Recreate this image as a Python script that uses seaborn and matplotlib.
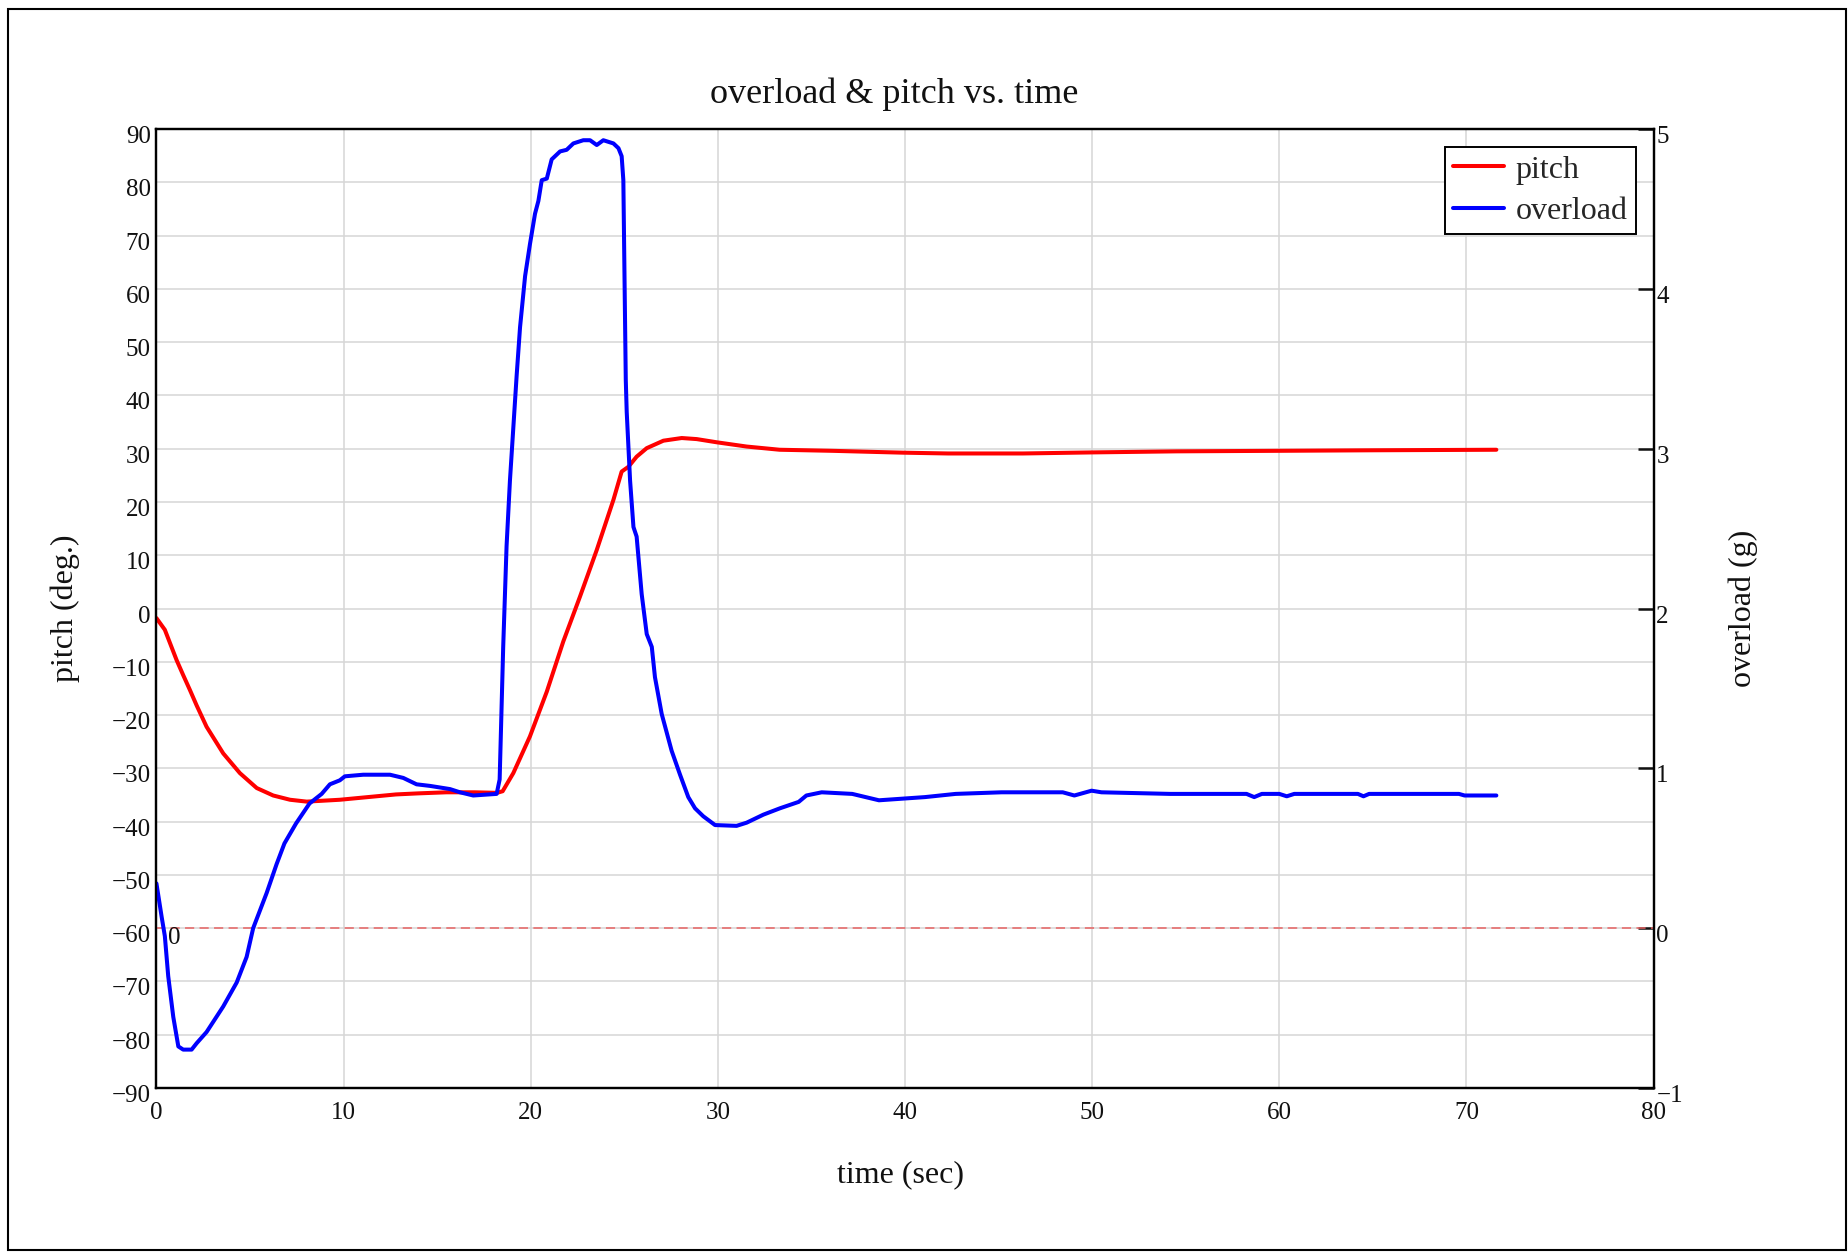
import matplotlib
matplotlib.use("Agg")
import matplotlib.pyplot as plt
import matplotlib.transforms as mtransforms
from matplotlib.patches import Rectangle
from matplotlib.lines import Line2D
import seaborn as sns
import pandas as pd

# pitch angle (deg) over time (s)
t_pitch = [0, 0.45, 1.08, 1.43, 1.79, 2.15, 2.68, 3.57, 4.46, 5.36, 6.24, 7.14,
           8.03, 9.8, 11.0, 12.8, 14.0, 15.5, 17.0, 18.2, 18.5, 19.07, 19.96,
           20.86, 21.74, 22.63, 23.53, 24.42, 24.86, 25.22, 25.66, 26.2, 27.09,
           28.07, 28.87, 29.94, 31.54, 33.3, 36.1, 39.9, 42.3, 46.3, 50.0, 54.5,
           60.0, 65.0, 71.6]
pitch = [-1.8, -4.0, -9.7, -12.5, -15.3, -18.2, -22.2, -27.2, -30.9, -33.7, -35.1,
         -35.9, -36.25, -35.9, -35.5, -34.9, -34.7, -34.5, -34.5, -34.6, -34.3,
         -30.9, -24.0, -15.6, -6.2, 2.2, 11.0, 20.4, 25.7, 26.6, 28.5, 30.1, 31.5,
         32.0, 31.8, 31.2, 30.4, 29.8, 29.6, 29.25, 29.1, 29.1, 29.3, 29.5,
         29.6, 29.7, 29.8]

# overload (g) over time (s)
t_load = [0, 0.28, 0.45, 0.63, 0.9, 1.17, 1.43, 1.88, 2.15, 2.68, 3.57, 4.29,
          4.82, 5.17, 5.89, 6.42, 6.84, 7.46, 8.18, 8.83, 9.27, 9.8, 10.07, 11.05,
          12.48, 13.19, 13.9, 14.62, 15.69, 16.22, 16.93, 18.18, 18.34, 18.53,
          18.71, 18.89, 19.07, 19.25, 19.43, 19.7, 19.96, 20.23, 20.41, 20.59,
          20.86, 21.12, 21.57, 21.92, 22.28, 22.81, 23.17, 23.53, 23.88, 24.42,
          24.69, 24.86, 24.95, 25.02, 25.08, 25.13, 25.31, 25.49, 25.66, 25.93,
          26.2, 26.47, 26.64, 27.0, 27.53, 27.98, 28.42, 28.78, 29.22, 29.85,
          31.0, 31.54, 32.43, 33.32, 34.32, 34.73, 35.55, 37.18, 38.61, 39.84,
          41.07, 42.71, 45.16, 48.43, 49.05, 49.97, 50.5, 54.17, 58.25, 58.66,
          59.07, 60.0, 60.4, 60.8, 64.2, 64.5, 64.8, 69.6, 69.9, 71.6]
overload = [0.28, 0.07, -0.05, -0.30, -0.555, -0.74, -0.76, -0.76, -0.72, -0.65,
            -0.49, -0.34, -0.18, 0.0, 0.22, 0.40, 0.53, 0.655, 0.78, 0.84, 0.9,
            0.925, 0.95, 0.96, 0.96, 0.94, 0.90, 0.89, 0.87, 0.85, 0.83, 0.84,
            0.93, 1.76, 2.39, 2.80, 3.13, 3.46, 3.76, 4.08, 4.28, 4.47, 4.55,
            4.68, 4.69, 4.81, 4.86, 4.87, 4.91, 4.93, 4.93, 4.90, 4.93, 4.91,
            4.88, 4.83, 4.68, 4.0, 3.43, 3.23, 2.80, 2.51, 2.45, 2.09, 1.84,
            1.76, 1.57, 1.34, 1.11, 0.96, 0.82, 0.75, 0.70, 0.645, 0.64, 0.66,
            0.71, 0.75, 0.79, 0.83, 0.85, 0.84, 0.80, 0.81, 0.82, 0.84, 0.85,
            0.85, 0.83, 0.86, 0.85, 0.84, 0.84, 0.82, 0.84, 0.84, 0.825, 0.84,
            0.84, 0.825, 0.84, 0.84, 0.83, 0.83]

x_ticks = list(range(0, 81, 10))
pitch_ticks = list(range(-90, 91, 10))
load_ticks = list(range(-1, 6))

df_pitch = pd.DataFrame({"time": t_pitch, "pitch": pitch})
df_load = pd.DataFrame({"time": t_load, "overload": overload})

sns.set_theme(style="white")
plt.rcParams["font.family"] = ["Liberation Serif", "DejaVu Serif"]
plt.rcParams["axes.unicode_minus"] = True

fig = plt.figure(figsize=(18.49, 12.54), dpi=100)
ax = fig.add_axes([0.0846, 0.1324, 0.8097, 0.7647])
ax2 = ax.twinx()
ax2.set_position(ax.get_position())

lw_curve = 2.9
sns.lineplot(data=df_pitch, x="time", y="pitch", ax=ax, color="#ff0000",
             linewidth=lw_curve, sort=False, estimator=None, legend=False)
sns.lineplot(data=df_load, x="time", y="overload", ax=ax2, color="#0000ff",
             linewidth=lw_curve, sort=False, estimator=None, legend=False)

# zero-g reference line
ax2.axhline(0, color="#e86464", linewidth=1.1, linestyle=(0, (6, 3.5)), zorder=1)
ax2.annotate("0", xy=(0, 0), xycoords="data", xytext=(8.3, 0.5),
             textcoords="offset points", ha="left", va="top", fontsize=18,
             color="#111111")

ax.set_xlim(0, 80)
ax.set_ylim(-90, 90)
ax2.set_ylim(-1, 5)
ax.set_xticks(x_ticks)
ax.set_yticks(pitch_ticks)
ax2.set_yticks(load_ticks)

ax.grid(True, color="#d6d6d6", linewidth=1.1)
ax.set_axisbelow(True)
ax2.grid(False)

for a in (ax, ax2):
    for s in a.spines.values():
        s.set_color("black")
        s.set_linewidth(1.6)

ax.tick_params(axis="x", length=0, pad=10, labelsize=18, colors="#111111")
ax.tick_params(axis="y", length=0, pad=4, labelsize=18, colors="#111111")
ax2.tick_params(axis="y", direction="in", length=11.5, width=1.8, pad=2,
                labelsize=18, colors="#111111")

ax.set_xlabel("time (sec)", fontsize=23, color="#111111")
ax.set_ylabel("pitch (deg.)", fontsize=23, color="#111111")
ax2.set_ylabel("overload (g)", fontsize=23, color="#111111")
ax.xaxis.set_label_coords(0.497, -0.0907)
ax.xaxis.label.set_va("center")
ax.yaxis.set_label_coords(-0.0611, 0.5)
ax.yaxis.label.set_va("center")
ax2.yaxis.set_label_coords(1.0598, 0.5)
ax2.yaxis.label.set_va("center")

fig.text(894 / 1849, 1 - 94 / 1254, "overload & pitch vs. time", ha="center",
         va="center", fontsize=26, color="#111111")

# nudge vertical tick labels slightly below their grid lines
shift = mtransforms.ScaledTranslation(0, -0.055, fig.dpi_scale_trans)
for lab in ax.get_yticklabels() + ax2.get_yticklabels():
    lab.set_transform(lab.get_transform() + shift)

handles = [Line2D([], [], color="#ff0000", linewidth=lw_curve),
           Line2D([], [], color="#0000ff", linewidth=lw_curve)]
leg = ax2.legend(handles, ["pitch", "overload"], loc="upper right",
                 bbox_to_anchor=(0.988, 0.981), borderaxespad=0, fontsize=23,
                 frameon=True, fancybox=False, shadow=False, framealpha=1,
                 edgecolor="black", handlelength=1.6, handletextpad=0.35,
                 borderpad=0.25, labelspacing=0.37)
leg.get_frame().set_linewidth(1.4)

fig.patches.append(Rectangle((8 / 1849, 1 - 1250 / 1254), (1846 - 8) / 1849,
                             (1250 - 9) / 1254, transform=fig.transFigure,
                             fill=False, edgecolor="black", linewidth=1.5))

fig.savefig("out.png", dpi=100)
